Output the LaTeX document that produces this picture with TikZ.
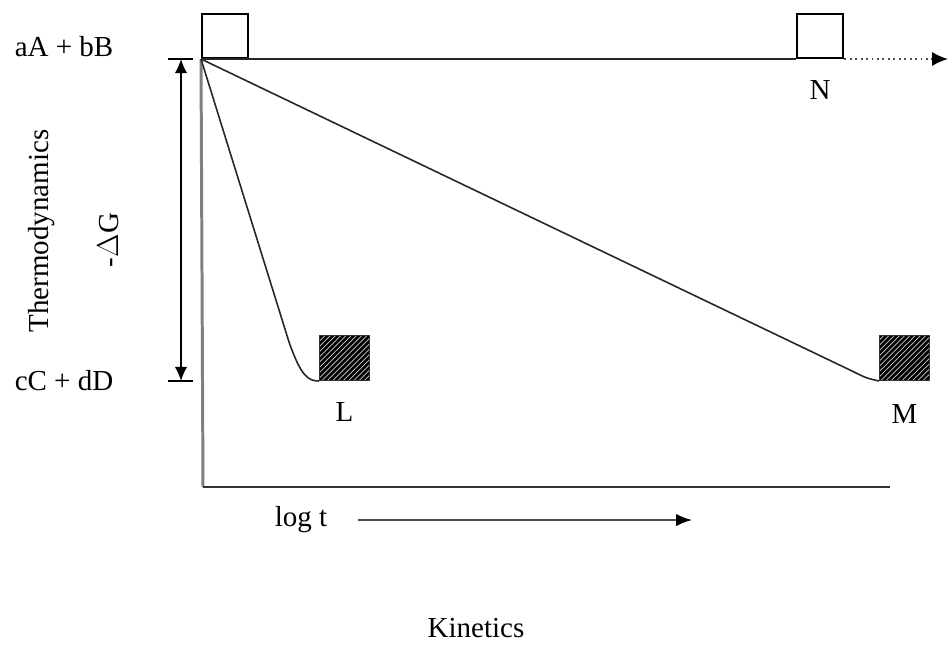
\documentclass[tikz,border=0pt]{standalone}
\usepackage{fontspec}
\setmainfont{Liberation Serif}
\usepackage{tikz}
\usetikzlibrary{positioning, arrows.meta, patterns, calc}

\begin{document}
\begin{tikzpicture}[
  x=0.02cm, y=-0.02cm,
  every node/.style={font=\fontsize{16.5}{19}\selectfont},
  openbox/.style={
    rectangle, draw=black, line width=1.3pt,
    minimum width=0.92cm, minimum height=0.88cm,
    inner sep=0pt, anchor=south west
  },
  hatchbox/.style={
    rectangle, draw=black!80, line width=0.6pt,
    minimum width=1cm, minimum height=0.9cm,
    inner sep=0pt, anchor=south west,
    preaction={fill=black},
    pattern=north east lines, pattern color=white!80!black
  },
  pathline/.style={black!85, line width=0.9pt},
]

% frame
\useasboundingbox (0,0) rectangle (952,650);

% squares
\node[openbox] (start) at (201,59) {};
\node[openbox] (nbox) at (796,59) {};
\node[hatchbox] (lbox) at (319,381) {};
\node[hatchbox] (mbox) at (879,381) {};

% labels
\node (react) at (64,47) {aA + bB};
\node (prod) at (64,381) {cC + dD};
\node[below=0.3cm of nbox] (nlab) {N};
\node[below=0.3cm of lbox] (llab) {L};
\node[below=0.35cm of mbox] (mlab) {M};
\node[rotate=90] (thermo) at (42,231) {Thermodynamics};
\node[rotate=90] (dg) at (108,240) {-$\Delta$G};
\node (logt) at (301,520) {log t};
\node (kin) at (476,628) {Kinetics};

% axes
\coordinate (origin) at (203,487);
\coordinate (xend) at (890,487);
\draw[black!50, line width=1.7pt] (start.south west) -- (origin);
\draw[black!80, line width=1.2pt] (origin) -- (xend);

% top line
\coordinate (dotend) at (948,59);
\draw[pathline] (start.south west) -- (nbox.south west);
\draw[black!70, line width=1.1pt, dotted, -{Latex[length=9pt,width=8pt,black]}]
  (nbox.south east) -- (dotend);

% reaction paths
\draw[pathline] (start.south west) -- (289,342)
  .. controls (301,376) and (308,381) .. (lbox.south west);
\draw[pathline] (start.south west) -- (852,371)
  .. controls (866,378) .. (mbox.south west);

% delta G arrow
\coordinate (gtop) at (181,59);
\coordinate (gbot) at (181,381);
\draw[line width=0.9pt, {Latex[length=8pt,width=7pt]}-{Latex[length=8pt,width=7pt]}]
  (gtop) -- (gbot);
\draw[line width=0.9pt] ($(gtop)+(-13,0)$) -- ($(gtop)+(12,0)$);
\draw[line width=0.9pt] ($(gbot)+(-13,0)$) -- ($(gbot)+(12,0)$);

% log t arrow
\coordinate (tarr) at (692,520);
\draw[black!70, line width=1pt, -{Latex[length=9pt,width=7pt,black]}]
  ($(logt.east)+(25,0)$) -- (tarr);

\end{tikzpicture}
\end{document}
